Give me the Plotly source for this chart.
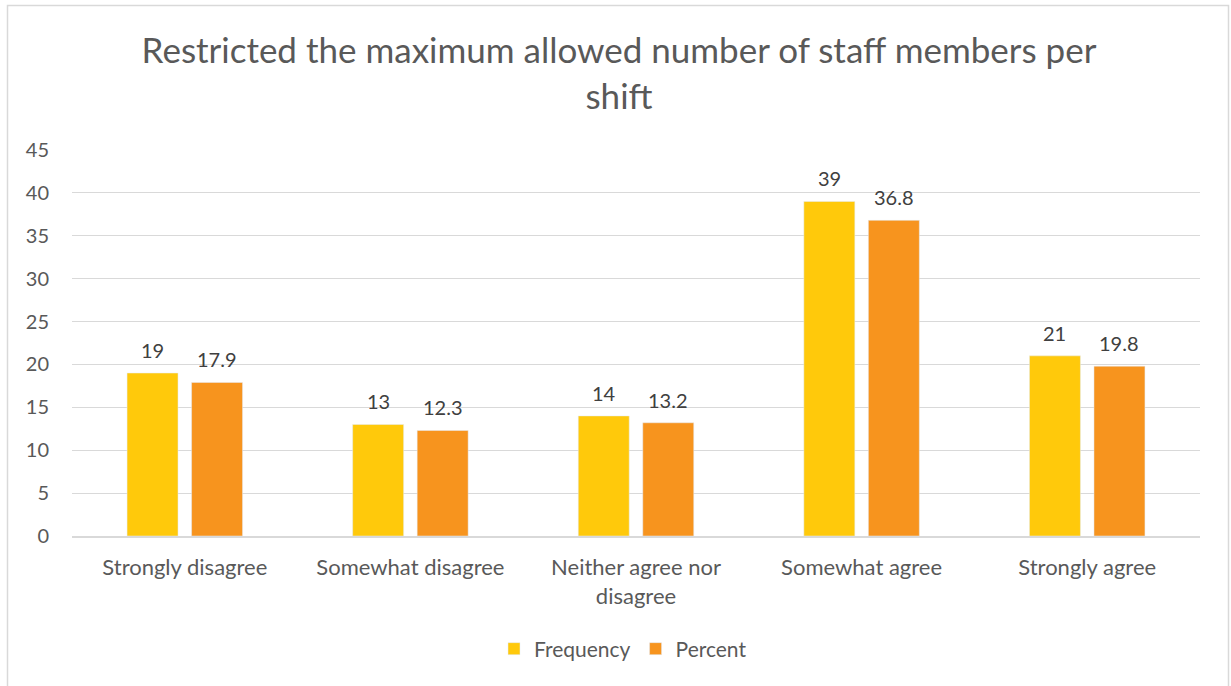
import plotly.graph_objects as go

categories = ["Strongly disagree", "Somewhat disagree", "Neither agree nor<br>disagree",
              "Somewhat agree", "Strongly agree"]
frequency = [19, 13, 14, 39, 21]
percent = [17.9, 12.3, 13.2, 36.8, 19.8]
y_ticks = [0, 5, 10, 15, 20, 25, 30, 35, 40, 45]

FONT = "Lato"
TXT = "#595959"
LBL = "#404040"

fig = go.Figure()
fig.add_trace(go.Bar(name="Frequency", x=categories, y=frequency, marker_color="#FFC90B"))
fig.add_trace(go.Bar(name="Percent", x=categories, y=percent, marker_color="#F7941E"))

# data labels above bars (offset to each bar's slot in the group)
annotations = []
for series, shift in ((frequency, -32.25), (percent, 32.25)):
    for c, v in zip(categories, series):
        annotations.append(dict(
            x=c, y=v, xref="x", yref="y", text=str(v), showarrow=False,
            xshift=shift, yshift=23, yanchor="middle",
            font=dict(size=20, color=LBL, family=FONT),
        ))

L, R, T, B = 72, 31, 150, 150
W, H = 1231, 686
pw, ph = W - L - R, H - T - B

def px(x):
    return (x - L) / pw

def py(y):
    return (H - B - y) / ph

fig.update_layout(
    width=W, height=H,
    margin=dict(l=L, r=R, t=T, b=B),
    paper_bgcolor="white", plot_bgcolor="white",
    font=dict(family=FONT, color=TXT, size=18),
    barmode="group", bargap=0.428, bargroupgap=0.21,
    title=dict(
        text="Restricted the maximum allowed number of staff members per<br>shift",
        x=619 / W, xanchor="center", xref="container",
        y=1 - 63 / H, yanchor="middle", yref="container",
        font=dict(size=35, color=TXT, family=FONT),
    ),
    legend=dict(
        orientation="h", x=px(623), xanchor="center", y=py(649), yanchor="middle",
        font=dict(size=21, color=TXT, family=FONT), traceorder="normal",
        itemwidth=30,
    ),
    showlegend=True,
    annotations=annotations,
    shapes=[dict(type="rect", xref="paper", yref="paper",
                 x0=px(7.5), x1=px(1228.5), y0=py(5.5), y1=py(700),
                 line=dict(color="#D9D9D9", width=1.5), fillcolor="rgba(0,0,0,0)",
                 layer="below")],
)
fig.update_xaxes(
    showgrid=False, showline=True, linecolor="#D9D9D9", linewidth=1.5,
    ticks="", tickfont=dict(size=22, color=TXT, family=FONT),
    ticklabelstandoff=11,
)
fig.update_yaxes(
    range=[0, 45], tickvals=y_ticks, showgrid=True, gridcolor="#D9D9D9", gridwidth=1.3,
    zeroline=False, showline=False, ticks="",
    tickfont=dict(size=20, color=TXT, family=FONT), ticklabelstandoff=22,
)

fig.write_html("out.html", config={"displayModeBar": False},
               post_script="document.body.style.margin='0';")
